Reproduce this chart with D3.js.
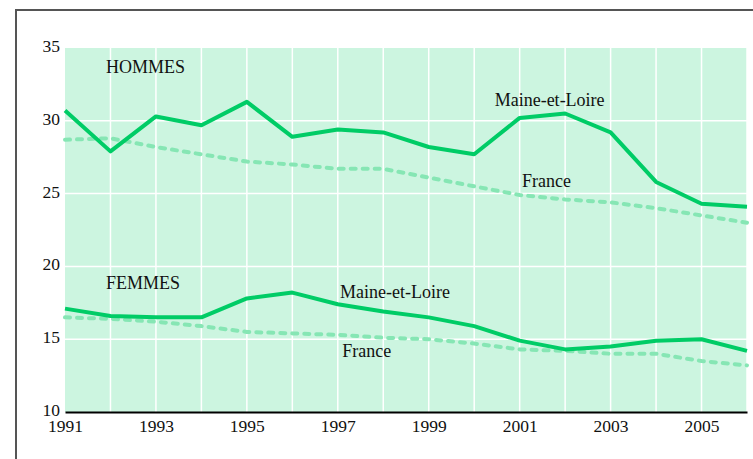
<!DOCTYPE html>
<html>
<head>
<meta charset="utf-8">
<script src="https://cdn.jsdelivr.net/npm/d3@7"></script>
<style>
  body { margin: 0; background: #fff; }
</style>
</head>
<body>
<div id="chart"></div>
<script>
var svgWidth = 753;
var svgHeight = 459;
var serif = "'Liberation Serif', 'Times New Roman', Times, serif";

// years on the x axis
var years = d3.range(1991, 2007);
var xTicks = [1991, 1993, 1995, 1997, 1999, 2001, 2003, 2005];
var yTicks = [10, 15, 20, 25, 30, 35];

// rates
var hommesMaine = [30.7, 27.9, 30.3, 29.7, 31.3, 28.9, 29.4, 29.2, 28.2, 27.7, 30.2, 30.5, 29.2, 25.8, 24.3, 24.1];
var hommesFrance = [28.7, 28.8, 28.2, 27.7, 27.2, 27.0, 26.7, 26.7, 26.1, 25.5, 24.9, 24.6, 24.4, 24.0, 23.5, 23.0];
var femmesMaine = [17.1, 16.6, 16.5, 16.5, 17.8, 18.2, 17.4, 16.9, 16.5, 15.9, 14.9, 14.3, 14.5, 14.9, 15.0, 14.2];
var femmesFrance = [16.5, 16.4, 16.2, 15.9, 15.5, 15.4, 15.3, 15.1, 15.0, 14.7, 14.3, 14.2, 14.0, 14.0, 13.5, 13.2];

var margin = { top: 48, right: 6, bottom: 47, left: 65 };
var width = svgWidth - margin.left - margin.right;
var height = svgHeight - margin.top - margin.bottom;

var svg = d3.select("#chart")
  .append("svg")
  .attr("width", svgWidth)
  .attr("height", svgHeight);

// frame
svg.append("path")
  .attr("d", "M16," + svgHeight + "V10H" + svgWidth)
  .attr("fill", "none")
  .attr("stroke", "#555")
  .attr("stroke-width", 2);

var g = svg.append("g")
  .attr("transform", `translate(${margin.left}, ${margin.top})`);

var x = d3.scaleLinear().domain([1991, 2006]).range([0, width]);
var y = d3.scaleLinear().domain([10, 35]).range([height, 0]);

g.append("rect")
  .attr("width", width)
  .attr("height", height)
  .attr("fill", "#ccf5e0");

// white grid
g.selectAll(".vgrid")
  .data(years.slice(1))
  .enter()
  .append("line")
  .attr("x1", d => x(d)).attr("x2", d => x(d))
  .attr("y1", 0).attr("y2", height)
  .attr("stroke", "#fff")
  .attr("stroke-width", 1.5);

g.selectAll(".hgrid")
  .data(yTicks.slice(1, -1))
  .enter()
  .append("line")
  .attr("x1", 0).attr("x2", width)
  .attr("y1", d => y(d)).attr("y2", d => y(d))
  .attr("stroke", "#fff")
  .attr("stroke-width", 1.5);

// axes
var xAxis = d3.axisBottom(x).tickValues(xTicks).tickFormat(d3.format("d")).tickSize(0).tickPadding(8);
var yAxis = d3.axisLeft(y).tickValues(yTicks).tickSize(0).tickPadding(5);

var xg = g.append("g").attr("transform", `translate(0, ${height})`).call(xAxis)
  .attr("font-family", serif);
xg.select(".domain").attr("stroke", "#000").attr("stroke-width", 2);
xg.selectAll("text").style("font-size", "17.5px").style("font-family", serif).attr("fill", "#111");

var yg = g.append("g").call(yAxis).attr("font-family", serif);
yg.select(".domain").remove();
yg.selectAll("text").style("font-size", "17.5px").style("font-family", serif).attr("fill", "#111").attr("dy", "0.2em");

// lines
var line = d3.line()
  .x((d, i) => x(years[i]))
  .y(d => y(d));

function drawLine(values, dashed) {
  g.append("path")
    .datum(values)
    .attr("fill", "none")
    .attr("stroke", dashed ? "#86e6b4" : "#00cc66")
    .attr("stroke-width", 4)
    .attr("stroke-linejoin", "round")
    .attr("stroke-linecap", dashed ? "round" : "butt")
    .attr("stroke-dasharray", dashed ? "5,7" : null)
    .attr("d", line);
}

drawLine(hommesFrance, true);
drawLine(femmesFrance, true);
drawLine(hommesMaine, false);
drawLine(femmesMaine, false);

// labels
var labels = [
  { t: "HOMMES", yr: 1991.9, v: 33.28 },
  { t: "Maine-et-Loire", yr: 2000.45, v: 31.02 },
  { t: "France", yr: 2001.05, v: 25.45 },
  { t: "FEMMES", yr: 1991.9, v: 18.45 },
  { t: "Maine-et-Loire", yr: 1997.05, v: 17.83 },
  { t: "France", yr: 1997.1, v: 13.78 }
];

g.selectAll(".lbl")
  .data(labels)
  .enter()
  .append("text")
  .attr("x", d => x(d.yr))
  .attr("y", d => y(d.v))
  .style("font-family", serif)
  .style("font-size", "18px")
  .attr("fill", "#111")
  .text(d => d.t);
</script>
</body>
</html>
